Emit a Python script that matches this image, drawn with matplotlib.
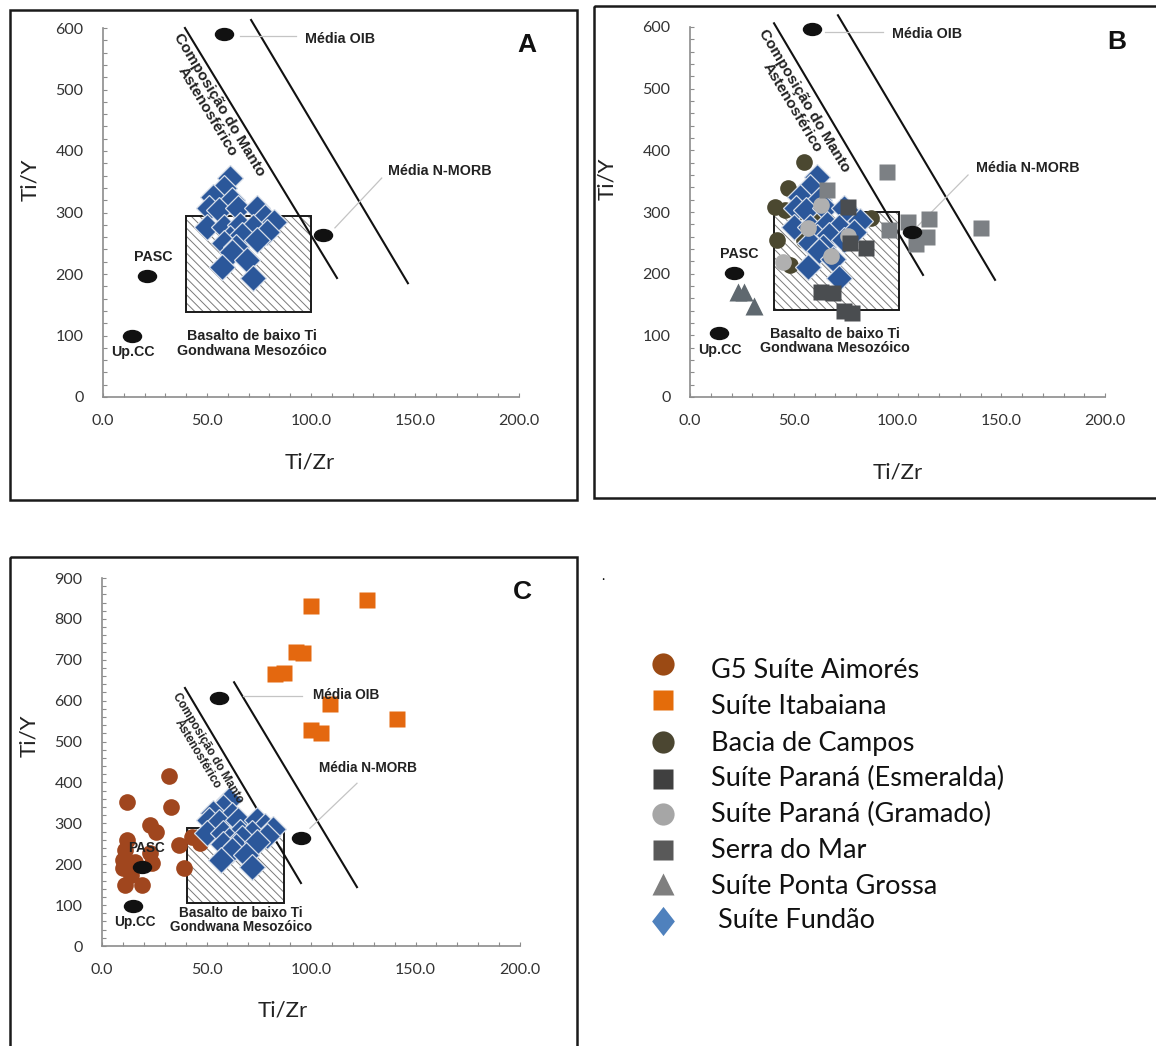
import matplotlib
matplotlib.use("Agg")
import matplotlib.pyplot as plt
from matplotlib.path import Path
from matplotlib.patches import Rectangle
from matplotlib.transforms import Affine2D
from matplotlib.ticker import MultipleLocator, FormatStrFormatter

# --- dados (Ti/Zr x Ti/Y) ---
fundao_x = [61, 58, 53, 62, 51, 56, 65, 74, 78, 82, 50, 58, 66, 72, 79, 61, 67, 58, 64, 74, 62, 69, 57, 72]
fundao_y = [356, 340, 325, 320, 307, 304, 307, 307, 293, 285, 276, 276, 280, 276, 268, 259, 263, 250, 244, 255, 236, 223, 211, 193]

campos_x = [55, 47, 41, 46, 52, 59, 87, 68, 42, 55, 48]
campos_y = [381, 339, 308, 303, 300, 290, 290, 276, 254, 254, 214]

gramado_x = [63, 57, 68, 45, 76]
gramado_y = [311, 274, 229, 219, 261]

esmeralda_x = [76, 85, 77, 63, 69, 74, 78]
esmeralda_y = [308, 241, 250, 170, 169, 139, 136]

serra_x = [95, 105, 115, 96, 114, 109, 140, 66]
serra_y = [365, 284, 288, 271, 259, 248, 274, 335]

ponta_x = [23, 26, 31]
ponta_y = [170, 170, 148]

aimores_x = [32, 12, 33, 23, 26, 12, 37, 11, 10, 23, 39, 10, 14, 11, 19, 24, 16, 43, 47]
aimores_y = [416, 352, 340, 296, 279, 259, 247, 235, 210, 227, 191, 191, 174, 149, 149, 203, 205, 266, 252]

itabaiana_x = [100, 127, 93, 96, 83, 87, 109, 141, 100, 105]
itabaiana_y = [831, 846, 719, 716, 665, 667, 592, 555, 528, 521]

# pontos de referencia: Media OIB, Media N-MORB, PASC, Up.CC (cada painel foi redesenhado)
ref_a_x = [58, 106, 21, 14]
ref_a_y = [590, 263, 197, 99]
ref_b_x = [59, 107, 21, 14]
ref_b_y = [596, 267, 201, 104]
ref_c_x = [56, 95, 19, 15]
ref_c_y = [606, 264, 193, 98]

# campo "Basalto de baixo Ti" (x0, x1, y0, y1)
box_a = [40, 100, 138, 294]
box_b = [40.5, 100.7, 141, 300]
box_c = [40.7, 87, 105, 288]

# linhas do manto astenosferico (x0, y0, x1, y1)
manto_a = [[39.4, 600, 112.5, 193.5], [71.2, 613, 146.6, 185]]
manto_b = [[40.5, 606, 112.3, 198], [71.3, 619, 147, 190]]
manto_c = [[39.7, 631, 95.2, 154], [63.2, 645, 122, 144]]

legend_labels = ["G5 Suíte Aimorés", "Suíte Itabaiana", "Bacia de Campos",
                 "Suíte Paraná (Esmeralda)", "Suíte Paraná (Gramado)",
                 "Serra do Mar", "Suíte Ponta Grossa", " Suíte Fundão"]

# --- estilo ---
plt.rcParams['font.family'] = ['Lato', 'DejaVu Sans']
plt.rcParams['hatch.linewidth'] = 0.7

ELLIPSE = Path.unit_circle().transformed(Affine2D().scale(1.0, 0.66))
TALL_DIAMOND = Path([(0, 1), (0.78, 0), (0, -1), (-0.78, 0), (0, 1)],
                    [Path.MOVETO, Path.LINETO, Path.LINETO, Path.LINETO, Path.CLOSEPOLY])

C_AIMORES = '#a0461e'
C_ITABAIANA = '#e4680f'
C_CAMPOS = '#4b4830'
C_ESMERALDA = '#4a4d50'
C_GRAMADO = '#b0b0b0'
C_SERRA = '#7c8084'
C_PONTA = '#5f686f'
C_FUNDAO = '#2b579a'

LABEL_FONT = dict(family='Liberation Sans', weight='bold', color='#222222')


def setup_axes(ax, ymax, xlab_pos, ylab_pos):
    ax.set_xlim(0, 200)
    ax.set_ylim(0, ymax)
    ax.patch.set_alpha(0)
    for s in ['top', 'right']:
        ax.spines[s].set_visible(False)
    for s in ['left', 'bottom']:
        ax.spines[s].set_color('#8c8c8c')
        ax.spines[s].set_linewidth(1.2)
    ax.xaxis.set_major_locator(MultipleLocator(50))
    ax.xaxis.set_minor_locator(MultipleLocator(10))
    ax.yaxis.set_major_locator(MultipleLocator(100))
    ax.yaxis.set_minor_locator(MultipleLocator(20))
    ax.xaxis.set_major_formatter(FormatStrFormatter('%.1f'))
    ax.tick_params(which='both', direction='in', length=3, width=0.8,
                   color='#8c8c8c', labelsize=11.5, labelcolor='#333333')
    ax.tick_params(axis='x', pad=12)
    ax.tick_params(axis='y', pad=14)
    ax.set_xlabel('Ti/Zr', fontsize=16, color='#222222')
    ax.set_ylabel('Ti/Y', fontsize=16, color='#222222')
    ax.xaxis.set_label_coords(*xlab_pos)
    ax.yaxis.set_label_coords(*ylab_pos)


def draw_template(ax, ref_x, ref_y, box, manto, lay, small=False):
    x0, x1, y0, y1 = box
    ax.add_patch(Rectangle((x0, y0), x1 - x0, y1 - y0, fill=False, hatch='\\\\\\\\',
                           edgecolor='#7a7a7a', lw=0, zorder=1))
    ax.add_patch(Rectangle((x0, y0), x1 - x0, y1 - y0, fill=False,
                           edgecolor='#1a1a1a', lw=1.4, zorder=2))
    for seg in manto:
        ax.plot([seg[0], seg[2]], [seg[1], seg[3]], color='#111111', lw=1.5,
                clip_on=False, zorder=2)
    ax.plot(ref_x, ref_y, ls='none', marker=ELLIPSE, ms=13, mfc='#111111',
            mec='#111111', zorder=7, clip_on=False)

    fs = 9.8 if small else 10.3
    # leader lines
    for seg in lay['leaders']:
        ax.plot([seg[0], seg[2]], [seg[1], seg[3]], color='#c4c4c4', lw=0.9,
                clip_on=False, zorder=2)
    ax.text(*lay['oib'], 'Média OIB', ha='left', va='center', fontsize=fs, zorder=8, **LABEL_FONT)
    ax.text(*lay['morb'], 'Média N-MORB', ha='left', va='center', fontsize=fs, zorder=8, **LABEL_FONT)
    ax.text(*lay['pasc'], 'PASC', ha='center', va='center', fontsize=fs, zorder=8, **LABEL_FONT)
    ax.text(*lay['upcc'], 'Up.CC', ha='center', va='center', fontsize=fs, zorder=8, **LABEL_FONT)
    ax.text(*lay['basalto'], 'Basalto de baixo Ti\nGondwana Mesozóico', ha='center',
            va='center', fontsize=fs, linespacing=1.05, zorder=8, **LABEL_FONT)
    ax.text(*lay['manto'], 'Composição do Manto\nAstenosférico', ha='center',
            va='center', rotation=-59, rotation_mode='anchor', linespacing=1.0,
            fontsize=(8.5 if small else 11), zorder=8, **LABEL_FONT)
    ax.text(*lay['letter'], lay['name'], ha='center', va='center', fontsize=19,
            family='Liberation Sans', weight='bold', color='#111111', zorder=8)


def diamonds(ax):
    ax.plot(fundao_x, fundao_y, ls='none', marker='D', ms=13.5, mfc=C_FUNDAO,
            mec='#d6dde8', mew=0.9, zorder=4)


fig = plt.figure(figsize=(11.56, 10.46), dpi=100)
W, H = 1156.0, 1046.0

# fundo / molduras / legenda em coordenadas de pixel
ov = fig.add_axes([0, 0, 1, 1], zorder=-1)
ov.set_xlim(0, W)
ov.set_ylim(H, 0)
ov.axis('off')
ov.add_patch(Rectangle((10, 10), 567, 490, fill=False, lw=1.8, ec='#1a1a1a'))
ov.add_patch(Rectangle((594, 6), 620, 492, fill=False, lw=1.8, ec='#1a1a1a', clip_on=False))
ov.add_patch(Rectangle((10, 557), 567, 540, fill=False, lw=1.8, ec='#1a1a1a', clip_on=False))
ov.text(603, 576, '.', fontsize=10, ha='center', va='center')

# --- Painel A ---
axA = fig.add_axes([103 / W, (H - 397) / H, 416 / W, 369 / H])
setup_axes(axA, 600, (0.498, -0.15), (-0.152, 0.59))
draw_template(axA, ref_a_x, ref_a_y, box_a, manto_a, dict(
    leaders=[[66, 587, 93, 587], [111.5, 275, 134, 356]],
    oib=(97, 582), morb=(137, 367), pasc=(24, 228), upcc=(14.4, 73),
    basalto=(71.6, 87), manto=(52.9, 470), letter=(204, 572), name='A'))
diamonds(axA)

# --- Painel B ---
axB = fig.add_axes([690 / W, (H - 397) / H, 415 / W, 370 / H])
setup_axes(axB, 600, (0.501, -0.178), (-0.175, 0.59))
draw_template(axB, ref_b_x, ref_b_y, box_b, manto_b, dict(
    leaders=[[65, 592, 93, 592], [109.4, 276, 134, 360]],
    oib=(97.3, 588), morb=(138, 371), pasc=(23.6, 232), upcc=(14.5, 76),
    basalto=(69.7, 91), manto=(52, 475), letter=(205.8, 575), name='B'))
axB.plot(campos_x, campos_y, ls='none', marker='o', ms=12, mfc=C_CAMPOS, mec='none', zorder=3)
diamonds(axB)
axB.plot(gramado_x, gramado_y, ls='none', marker='o', ms=12, mfc=C_GRAMADO, mec='none', zorder=5)
axB.plot(esmeralda_x, esmeralda_y, ls='none', marker='s', ms=11.5, mfc=C_ESMERALDA, mec='none', zorder=5)
axB.plot(serra_x, serra_y, ls='none', marker='s', ms=11.5, mfc=C_SERRA, mec='none', zorder=5)
axB.plot(ponta_x, ponta_y, ls='none', marker='^', ms=12.5, mfc=C_PONTA, mec='none', zorder=5)

# --- Painel C ---
axC = fig.add_axes([102 / W, (H - 946) / H, 418 / W, 368 / H])
setup_axes(axC, 900, (0.433, -0.147), (-0.15, 0.57))
draw_template(axC, ref_c_x, ref_c_y, box_c, manto_c, dict(
    leaders=[[67.5, 611, 95.7, 611], [99.5, 288, 122, 398]],
    oib=(101, 614), morb=(103.8, 435), pasc=(21.5, 240), upcc=(15.8, 59),
    basalto=(66.5, 64), manto=(48.3, 477), letter=(201, 866), name='C'), small=True)
axC.plot(aimores_x, aimores_y, ls='none', marker='o', ms=12, mfc=C_AIMORES, mec='none', zorder=3)
diamonds(axC)
axC.plot(itabaiana_x, itabaiana_y, ls='none', marker='s', ms=11.5, mfc=C_ITABAIANA, mec='none', zorder=5)

# --- Legenda ---
leg_colors = ['#9b4a14', '#e46c0a', '#4b4631', '#404040', '#a6a6a6', '#595959', '#7f7f7f', '#4f81bd']
leg_markers = ['o', 's', 'o', 's', 'o', 's', '^', TALL_DIAMOND]
leg_sizes = [16, 14, 16, 14, 16, 14, 16.5, 21]
marker_y = [664, 700, 742, 779, 814, 850, 884, 921]
text_y = [670, 706, 743, 778, 814, 850, 886, 921]
for lab, col, mk, sz, my, ty in zip(legend_labels, leg_colors, leg_markers, leg_sizes, marker_y, text_y):
    ov.plot([663], [my], ls='none', marker=mk, ms=sz, mfc=col, mec='none', clip_on=False)
    ov.text(711, ty, lab, fontsize=19.5, va='center', ha='left', color='#111111')

fig.savefig('out.png', dpi=100)
